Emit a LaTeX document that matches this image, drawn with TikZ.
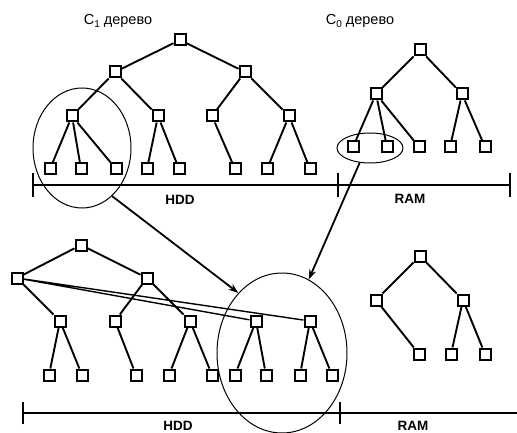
\documentclass[tikz,border=0pt]{standalone}
\usepackage{fontspec}
\setmainfont{Liberation Sans}
\usetikzlibrary{shapes.geometric,arrows.meta}
\begin{document}
\begin{tikzpicture}[x=1pt,y=-1pt,
  key/.style={draw,fill=white,line width=2pt,minimum size=11pt,inner sep=0pt},
  edge/.style={line width=1.9pt},
  ring/.style={draw,ellipse,line width=1pt,inner sep=0pt},
  scale line/.style={line width=1.7pt},
  tick/.style={line width=1.3pt},
  arr/.style={line width=1.8pt,-{Stealth[length=10pt,width=7pt]}},
  title/.style={font=\fontsize{14.5}{16}\selectfont},
  media/.style={font=\bfseries\fontsize{13.5}{15}\selectfont}]
\useasboundingbox (0,0) rectangle (517,433);

% ---------- C1 tree (on disk) ----------
\node[title] (t1) at (118,21) {C\raisebox{-0.45ex}{\fontsize{10}{10}\selectfont 1} дерево};
\node[key] (r1) at (180,40) {};
\node[key] (a1) at (115,72) {};
\node[key] (b1) at (245,72) {};
\node[key] (aa) at (72,116) {};
\node[key] (ab) at (158,116) {};
\node[key] (ba) at (212,116) {};
\node[key] (bb) at (289,116) {};
\foreach \n/\x in {l1/50,l2/81,l3/116,l4/147,l5/179,l6/235,l7/267,l8/310}
  \node[key] (\n) at (\x,169) {};
\draw[edge] (r1) -- (a1) (r1) -- (b1);
\draw[edge] (a1) -- (aa) (a1) -- (ab) (b1) -- (ba) (b1) -- (bb);
\draw[edge] (aa) -- (l1) (aa) -- (l2) (aa) -- (l3);
\draw[edge] (ab) -- (l4) (ab) -- (l5) (ba) -- (l6) (bb) -- (l7) (bb) -- (l8);

% ---------- C0 tree (in memory) ----------
\node[title] (t0) at (360,21) {C\raisebox{-0.45ex}{\fontsize{10}{10}\selectfont 0} дерево};
\node[key] (s0) at (420,50) {};
\node[key] (sa) at (376,94) {};
\node[key] (sb) at (462,94) {};
\foreach \n/\x in {k1/353,k2/387,k3/419,k4/450,k5/485}
  \node[key] (\n) at (\x,147) {};
\draw[edge] (s0) -- (sa) (s0) -- (sb);
\draw[edge] (sa) -- (k1) (sa) -- (k2) (sa) -- (k3) (sb) -- (k4) (sb) -- (k5);

% ---------- upper storage scale ----------
\coordinate (u0) at (33,185);
\coordinate (u1) at (338,185);
\coordinate (u2) at (510,185);
\draw[scale line] (u0) -- (u2);
\foreach \c in {u0,u1,u2}
  \draw[tick] ([yshift=-12pt]\c) -- ([yshift=12pt]\c);
\node[media] (h1) at (180,200) {HDD};
\node[media] (m1) at (410,199) {RAM};

% ---------- merged tree (on disk) ----------
\node[key] (q0) at (81,245) {};
\node[key] (qa) at (17,278) {};
\node[key] (qb) at (147,278) {};
\node[key] (p1) at (60,321) {};
\node[key] (p2) at (115,321) {};
\node[key] (p3) at (190,321) {};
\node[key] (p4) at (256,321) {};
\node[key] (p5) at (310,321) {};
\foreach \n/\x in {f1/49,f2/82,f3/136,f4/169,f5/212,f6/235,f7/266,f8/300,f9/332}
  \node[key] (\n) at (\x,375) {};
\draw[edge] (q0) -- (qa) (q0) -- (qb);
\draw[edge] (qa) -- (p1) (qb) -- (p2) (qb) -- (p3);
\draw[line width=1.4pt] (qa) -- (p4) (qa) -- (p5);
\draw[edge] (p1) -- (f1) (p1) -- (f2) (p2) -- (f3) (p3) -- (f4) (p3) -- (f5);
\draw[edge] (p4) -- (f6) (p4) -- (f7) (p5) -- (f8) (p5) -- (f9);

% ---------- new C0 tree (in memory) ----------
\node[key] (n0) at (420,256) {};
\node[key] (na) at (376,300) {};
\node[key] (nb) at (463,300) {};
\foreach \n/\x in {g1/419,g2/451,g3/485}
  \node[key] (\n) at (\x,354) {};
\draw[edge] (n0) -- (na) (n0) -- (nb);
\draw[edge] (na) -- (g1) (nb) -- (g2) (nb) -- (g3);

% ---------- lower storage scale ----------
\coordinate (v0) at (23,413);
\coordinate (v1) at (340,413);
\coordinate (v2) at (517,413);
\draw[scale line] (v0) -- (v2);
\foreach \c in {v0,v1}
  \draw[tick] ([yshift=-11pt]\c) -- ([yshift=11pt]\c);
\node[media] (h2) at (178,426) {HDD};
\node[media] (m2) at (413,426) {RAM};

% ---------- merged parts and arrows ----------
\node[ring,minimum width=98pt,minimum height=120pt] (e1) at (82,148) {};
\node[ring,minimum width=66pt,minimum height=30pt] (e2) at (370,148) {};
\node[ring,minimum width=130pt,minimum height=160pt] (e3) at (282,353) {};
\draw[arr] (e1.-58) -- (e3.126);
\draw[arr] (e2.-125) -- (e3.70);
\end{tikzpicture}
\end{document}
